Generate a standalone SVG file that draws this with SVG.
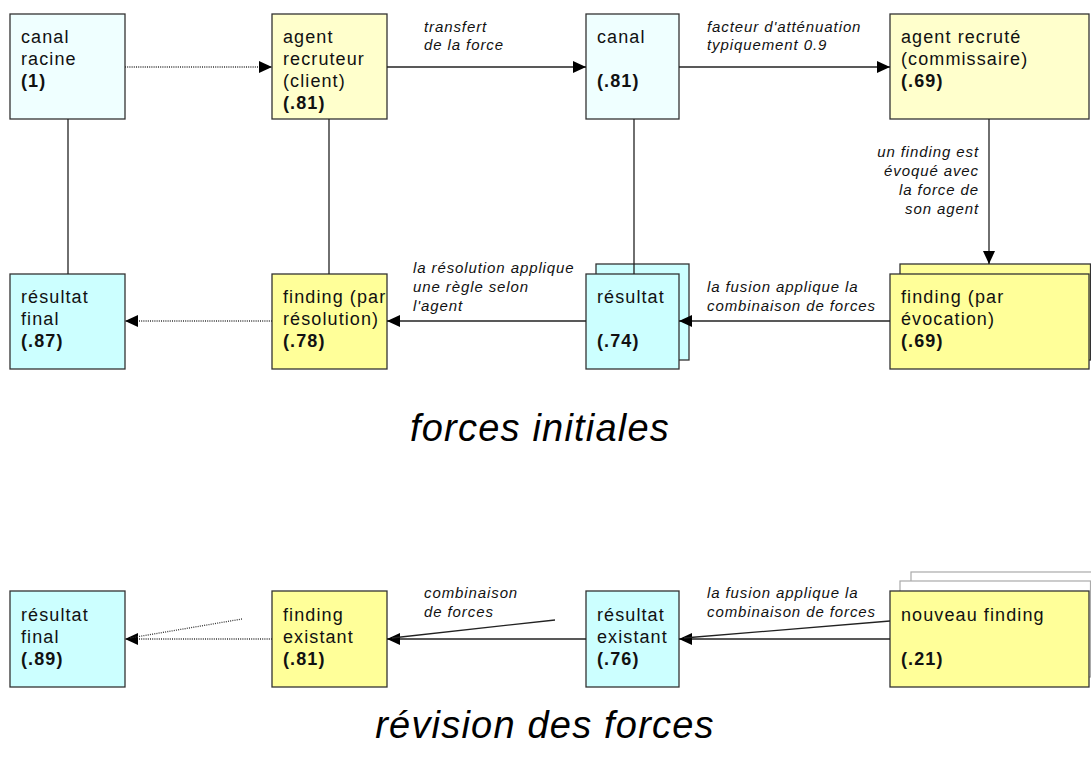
<svg xmlns="http://www.w3.org/2000/svg" width="1091" height="767" viewBox="0 0 1091 767">
<defs>
<marker id="ah" markerUnits="userSpaceOnUse" markerWidth="14" markerHeight="14" refX="13" refY="6" orient="auto">
<path d="M0,0 L13,6 L0,12 z" fill="#000"/>
</marker>
<style>
.box{stroke:#333;stroke-width:1.3}
.c1{fill:#efffff}
.y1{fill:#ffffcc}
.c2{fill:#ccffff}
.y2{fill:#ffff99}
.ghost{fill:#fff;stroke:#aaa;stroke-width:1.2}
.t{font-family:"Liberation Sans",Arial,sans-serif;font-size:18px;letter-spacing:1.1px;fill:#111}
.b{font-weight:bold}
.lab{font-family:"Liberation Sans",Arial,sans-serif;font-size:15px;font-style:italic;letter-spacing:0.9px;fill:#111}
.title{font-family:"Liberation Sans",Arial,sans-serif;font-size:38px;font-style:italic;letter-spacing:1.2px;fill:#000}
.ln{stroke:#222;stroke-width:1.3;fill:none}
.dot{stroke:#333;stroke-width:1.3;fill:none;stroke-dasharray:1 1.2}
.arr{marker-end:url(#ah)}
</style>
</defs>
<rect width="1091" height="767" fill="#fff"/>

<!-- top row -->
<g id="canal-racine">
<rect class="box c1" x="10" y="14" width="115" height="105"/>
<text class="t" x="21" y="43">canal</text>
<text class="t" x="21" y="65">racine</text>
<text class="t b" x="21" y="87">(1)</text>
</g>
<g id="agent-recruteur">
<rect class="box y1" x="272" y="14" width="115" height="105"/>
<text class="t" x="283" y="43">agent</text>
<text class="t" x="283" y="65">recruteur</text>
<text class="t" x="283" y="87">(client)</text>
<text class="t b" x="283" y="109">(.81)</text>
</g>
<g id="canal">
<rect class="box c1" x="586" y="14" width="93" height="105"/>
<text class="t" x="597" y="43">canal</text>
<text class="t b" x="597" y="87">(.81)</text>
</g>
<g id="agent-recrute">
<rect class="box y1" x="890" y="14" width="199" height="105"/>
<text class="t" x="901" y="43">agent recruté</text>
<text class="t" x="901" y="65">(commissaire)</text>
<text class="t b" x="901" y="87">(.69)</text>
</g>

<!-- middle row -->
<g id="resultat-final-1">
<rect class="box c2" x="10" y="274" width="115" height="95"/>
<text class="t" x="21" y="303">résultat</text>
<text class="t" x="21" y="325">final</text>
<text class="t b" x="21" y="347">(.87)</text>
</g>
<g id="finding-resolution">
<rect class="box y2" x="272" y="274" width="115" height="95"/>
<text class="t" x="283" y="303">finding (par</text>
<text class="t" x="283" y="325">résolution)</text>
<text class="t b" x="283" y="347">(.78)</text>
</g>
<g id="resultat">
<rect class="box c2" x="596" y="264" width="93" height="96"/>
<rect class="box c2" x="586" y="274" width="93" height="95"/>
<text class="t" x="597" y="303">résultat</text>
<text class="t b" x="597" y="347">(.74)</text>
</g>
<g id="finding-evocation">
<rect class="box y2" x="900" y="264" width="190.5" height="96"/>
<rect class="box y2" x="890" y="274" width="199" height="95"/>
<text class="t" x="901" y="303">finding (par</text>
<text class="t" x="901" y="325">évocation)</text>
<text class="t b" x="901" y="347">(.69)</text>
</g>

<!-- bottom row -->
<g id="resultat-final-2">
<rect class="box c2" x="10" y="591" width="115" height="96"/>
<text class="t" x="21" y="621">résultat</text>
<text class="t" x="21" y="643">final</text>
<text class="t b" x="21" y="665">(.89)</text>
</g>
<g id="finding-existant">
<rect class="box y2" x="272" y="591" width="115" height="96"/>
<text class="t" x="283" y="621">finding</text>
<text class="t" x="283" y="643">existant</text>
<text class="t b" x="283" y="665">(.81)</text>
</g>
<g id="resultat-existant">
<rect class="box c2" x="586" y="591" width="93" height="96"/>
<text class="t" x="597" y="621">résultat</text>
<text class="t" x="597" y="643">existant</text>
<text class="t b" x="597" y="665">(.76)</text>
</g>
<g id="nouveau-finding">
<rect class="ghost" x="911" y="572" width="190" height="96"/>
<rect class="ghost" x="900" y="581" width="190.5" height="96"/>
<rect class="box y2" x="890" y="591" width="199" height="96"/>
<text class="t" x="901" y="621">nouveau finding</text>
<text class="t b" x="901" y="665">(.21)</text>
</g>

<!-- connectors -->
<g id="connectors">
<line class="dot arr" x1="125" y1="67" x2="272" y2="67"/>
<line class="ln arr" x1="387" y1="67" x2="586" y2="67"/>
<line class="ln arr" x1="679" y1="67" x2="890" y2="67"/>
<line class="ln" x1="68" y1="119" x2="68" y2="274"/>
<line class="ln" x1="329" y1="119" x2="329" y2="274"/>
<line class="ln" x1="634" y1="119" x2="634" y2="274"/>
<line class="ln arr" x1="989" y1="119" x2="989" y2="264"/>
<line class="ln arr" x1="890" y1="321" x2="679" y2="321"/>
<line class="ln arr" x1="586" y1="321" x2="387" y2="321"/>
<line class="dot arr" x1="272" y1="321" x2="125" y2="321"/>
<line class="ln arr" x1="890" y1="639" x2="679" y2="639"/>
<line class="ln" x1="890" y1="621" x2="684" y2="638"/>
<line class="ln arr" x1="586" y1="639" x2="387" y2="639"/>
<line class="ln" x1="555" y1="620" x2="392" y2="638"/>
<line class="dot arr" x1="272" y1="639" x2="125" y2="639"/>
<line class="dot" x1="242" y1="619" x2="130" y2="638"/>
</g>

<!-- labels -->
<g id="labels">
<text class="lab" x="424" y="32">transfert</text>
<text class="lab" x="424" y="50">de la force</text>
<text class="lab" x="707" y="32">facteur d'atténuation</text>
<text class="lab" x="707" y="50">typiquement 0.9</text>
<text class="lab" x="979" y="157" text-anchor="end">un finding est</text>
<text class="lab" x="979" y="176" text-anchor="end">évoqué avec</text>
<text class="lab" x="979" y="195" text-anchor="end">la force de</text>
<text class="lab" x="979" y="214" text-anchor="end">son agent</text>
<text class="lab" x="413" y="273">la résolution applique</text>
<text class="lab" x="413" y="292">une règle selon</text>
<text class="lab" x="413" y="311">l'agent</text>
<text class="lab" x="707" y="292">la fusion applique la</text>
<text class="lab" x="707" y="311">combinaison de forces</text>
<text class="lab" x="424" y="598">combinaison</text>
<text class="lab" x="424" y="617">de forces</text>
<text class="lab" x="707" y="598">la fusion applique la</text>
<text class="lab" x="707" y="617">combinaison de forces</text>
<text class="title" x="540" y="441" text-anchor="middle">forces initiales</text>
<text class="title" x="545" y="738" text-anchor="middle">révision des forces</text>
</g>
</svg>
